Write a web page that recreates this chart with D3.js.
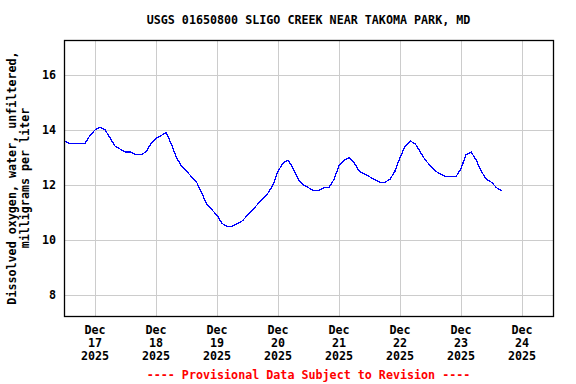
<!DOCTYPE html>
<html>
<head>
<meta charset="utf-8">
<script src="https://cdn.jsdelivr.net/npm/d3@7"></script>
<style>
  body { margin: 0; background: #fff; }
  text { font-family: "DejaVu Sans Mono", monospace; font-weight: bold; font-size: 11.7px; }
</style>
</head>
<body>
<div id="chart"></div>
<script>
// readings every 2 hours starting Dec 16 12:00
var startTime = new Date(Date.UTC(2025, 11, 16, 12, 0));
var stepHours = 2;
var oxygen = [
  13.6, 13.5, 13.5, 13.5, 13.5, 13.8, 14.0, 14.1, 14.0, 13.7,
  13.4, 13.3, 13.2, 13.2, 13.1, 13.1, 13.2, 13.5, 13.7, 13.8,
  13.9, 13.5, 13.0, 12.7, 12.5, 12.3, 12.1, 11.7, 11.3, 11.1,
  10.9, 10.6, 10.5, 10.5, 10.6, 10.7, 10.9, 11.1, 11.3, 11.5,
  11.7, 12.0, 12.5, 12.8, 12.9, 12.6, 12.2, 12.0, 11.9, 11.8,
  11.8, 11.9, 11.9, 12.2, 12.7, 12.9, 13.0, 12.8, 12.5, 12.4,
  12.3, 12.2, 12.1, 12.1, 12.2, 12.5, 13.0, 13.4, 13.6, 13.5,
  13.2, 12.9, 12.7, 12.5, 12.4, 12.3, 12.3, 12.3, 12.6, 13.1,
  13.2, 12.9, 12.5, 12.2, 12.1, 11.9, 11.8
];
var tickDays = [17, 18, 19, 20, 21, 22, 23, 24];
var tickMonth = "Dec";
var tickYear = "2025";
var yTicks = [8, 10, 12, 14, 16];

var title = "USGS 01650800 SLIGO CREEK NEAR TAKOMA PARK, MD";
var yLabel = ["Dissolved oxygen, water, unfiltered,", "milligrams per liter"];
var footer = "---- Provisional Data Subject to Revision ----";

var width = 576, height = 384;
var margin = {top: 40, right: 23, bottom: 68, left: 64};
var plotW = width - margin.left - margin.right,
    plotH = height - margin.top - margin.bottom;

var svg = d3.select("#chart").append("svg")
    .attr("width", width)
    .attr("height", height);

var x = d3.scaleUtc()
    .domain([new Date(Date.UTC(2025, 11, 16, 11, 48)), new Date(Date.UTC(2025, 11, 24, 12, 12))])
    .range([0, plotW]);
var y = d3.scaleLinear()
    .domain([7.24, 17.27])
    .range([plotH, 0]);

var g = svg.append("g")
    .attr("transform", "translate(" + margin.left + "," + margin.top + ")");

var tickDates = tickDays.map(function(d) { return new Date(Date.UTC(2025, 11, d)); });

// grid lines
g.selectAll(".vgrid")
    .data(tickDates)
    .enter()
    .append("line")
    .attr("x1", function(d) { return Math.round(x(d)) + 0.5; })
    .attr("x2", function(d) { return Math.round(x(d)) + 0.5; })
    .attr("y1", 0)
    .attr("y2", plotH)
    .style("stroke", "#cccccc");
g.selectAll(".hgrid")
    .data(yTicks)
    .enter()
    .append("line")
    .attr("x1", 0)
    .attr("x2", plotW)
    .attr("y1", function(d) { return Math.round(y(d)) + 0.5; })
    .attr("y2", function(d) { return Math.round(y(d)) + 0.5; })
    .style("stroke", "#cccccc");

// data line
var pts = oxygen.map(function(v, i) {
  return {t: new Date(startTime.getTime() + i * stepHours * 3600000), v: v};
});
g.append("path")
    .datum(pts)
    .attr("d", d3.line()
        .x(function(d) { return x(d.t); })
        .y(function(d) { return y(d.v); }))
    .style("fill", "none")
    .style("stroke", "#0000ff")
    .style("stroke-width", 1.3)
    .style("shape-rendering", "crispEdges");

// frame
g.append("rect")
    .attr("x", 0.5)
    .attr("y", 0.5)
    .attr("width", plotW)
    .attr("height", plotH)
    .style("fill", "none")
    .style("stroke", "black")
    .style("stroke-width", 1.3);

// x tick labels, three lines each
var xl = g.selectAll(".xlab")
    .data(tickDates)
    .enter()
    .append("text")
    .attr("text-anchor", "middle")
    .attr("x", function(d) { return x(d); })
    .attr("y", plotH + 18);
xl.append("tspan").attr("x", function(d) { return x(d); }).attr("dy", 0).text(tickMonth);
xl.append("tspan").attr("x", function(d) { return x(d); }).attr("dy", 13).text(function(d) { return d.getUTCDate(); });
xl.append("tspan").attr("x", function(d) { return x(d); }).attr("dy", 13).text(tickYear);

// y tick labels
g.selectAll(".ylab")
    .data(yTicks)
    .enter()
    .append("text")
    .attr("text-anchor", "end")
    .attr("x", -8)
    .attr("y", function(d) { return y(d); })
    .attr("dy", "0.35em")
    .text(function(d) { return d; });

// y axis title
svg.selectAll(".ytitle")
    .data(yLabel)
    .enter()
    .append("text")
    .attr("text-anchor", "middle")
    .attr("transform", function(d, i) {
      return "translate(" + (16 + i * 13) + "," + (margin.top + plotH / 2) + ") rotate(-90)";
    })
    .text(function(d) { return d; });

svg.append("text")
    .attr("text-anchor", "middle")
    .attr("x", margin.left + plotW / 2)
    .attr("y", 24)
    .text(title);

svg.append("text")
    .attr("text-anchor", "middle")
    .attr("x", margin.left + plotW / 2)
    .attr("y", 379)
    .style("fill", "red")
    .text(footer);
</script>
</body>
</html>
